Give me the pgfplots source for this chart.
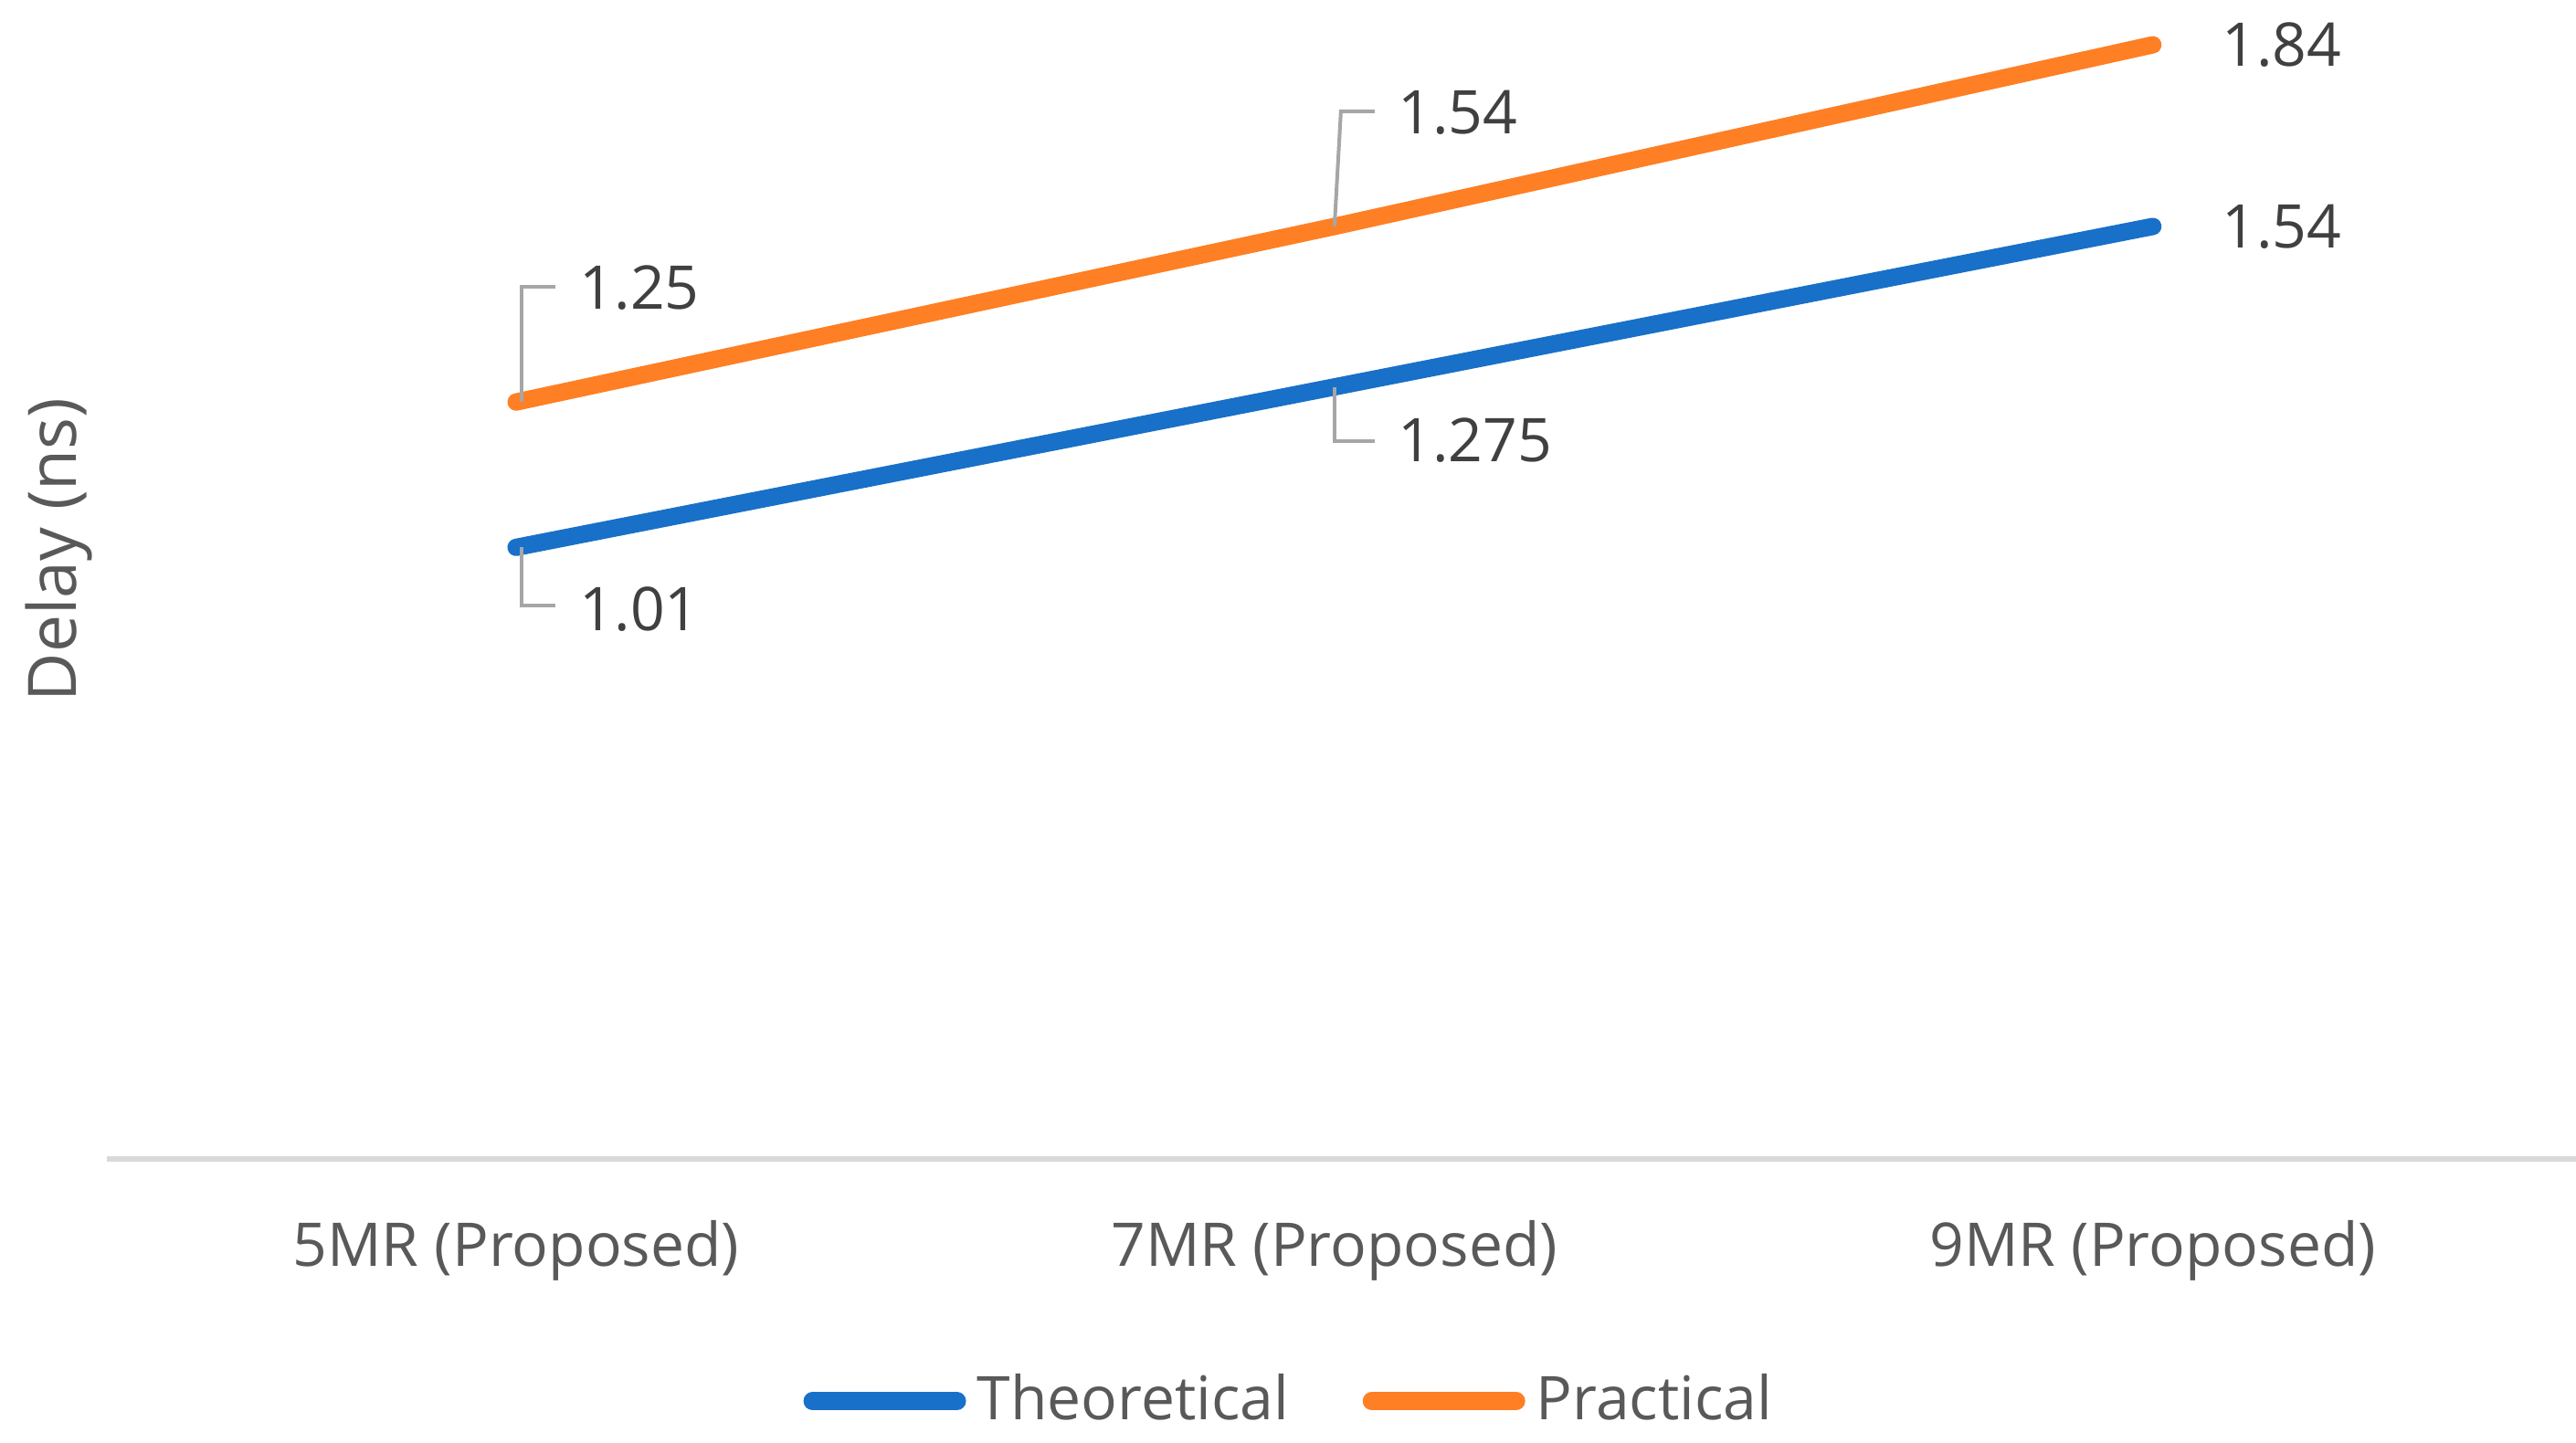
\documentclass[border=0pt]{standalone}
\usepackage{fontspec}
\setmainfont{Open Sans}
\usepackage{pgfplots}
\pgfplotsset{compat=1.18}
\definecolor{cblue}{HTML}{1870C8}
\definecolor{corange}{HTML}{FF7F24}
\definecolor{axgray}{HTML}{D9D9D9}
\definecolor{txtgray}{HTML}{595959}
\definecolor{lblgray}{HTML}{404040}
\definecolor{leadgray}{HTML}{A6A6A6}
\begin{document}
\fontsize{16.5}{20}\selectfont
\begin{tikzpicture}
\begin{axis}[
  scale only axis, width=675.75pt, height=317.25pt,
  xmin=-0.5, xmax=2.517, ymin=0, ymax=1.914,
  axis x line=bottom, axis y line=left,
  axis line style={-},
  x axis line style={draw=axgray, line width=1.5pt},
  y axis line style={draw=none},
  xtick={0,1,2},
  xticklabels={5MR (Proposed),7MR (Proposed),9MR (Proposed)},
  ytick=\empty,
  major tick length=0pt,
  xticklabel style={anchor=base, yshift=-29.5pt, inner sep=0pt, text=txtgray},
  ylabel={Delay (ns)},
  every axis y label/.style={at={(rel axis cs:-0.0193,0.5256)}, anchor=center, rotate=90, text=txtgray, font=\fontsize{18.3}{22}\selectfont},
  clip=false,
  legend columns=2,
  legend style={draw=none, fill=none, at={(0.4805,-0.209)}, anchor=center, text=txtgray,
    nodes={inner sep=3pt},
    /tikz/every even column/.append style={column sep=17.2pt}},
  legend image code/.code={\draw[#1, line width=5pt, line cap=round] (0pt,0pt) -- (39.5pt,0pt);},
]
\addplot[cblue, line width=4.75pt, line cap=round, line join=round] coordinates {(0,1.01) (1,1.275) (2,1.54)};
\addlegendentry{Theoretical}
\addplot[corange, line width=4.75pt, line cap=round, line join=round] coordinates {(0,1.25) (1,1.54) (2,1.84)};
\addlegendentry{Practical}
% leader lines and data labels
\draw[leadgray, line width=1pt] (axis cs:0,1.25) ++(1.5pt,0pt) -- ++(0pt,31.5pt) -- ++(9.25pt,0pt);
\node[anchor=west, inner sep=0pt, text=lblgray, xshift=17.25pt, yshift=31.25pt] at (axis cs:0,1.25) {1.25};
\draw[leadgray, line width=1pt] (axis cs:0,1.01) ++(1.5pt,0pt) -- ++(0pt,-16pt) -- ++(9.25pt,0pt);
\node[anchor=west, inner sep=0pt, text=lblgray, xshift=17.25pt, yshift=-17pt] at (axis cs:0,1.01) {1.01};
\draw[leadgray, line width=1pt] (axis cs:1,1.54) -- ++(1.75pt,31.5pt) -- ++(9.25pt,0pt);
\node[anchor=west, inner sep=0pt, text=lblgray, xshift=17.25pt, yshift=31.25pt] at (axis cs:1,1.54) {1.54};
\draw[leadgray, line width=1pt] (axis cs:1,1.275) -- ++(0pt,-14.75pt) -- ++(11pt,0pt);
\node[anchor=west, inner sep=0pt, text=lblgray, xshift=17.25pt, yshift=-14.5pt] at (axis cs:1,1.275) {1.275};
\node[anchor=west, inner sep=0pt, text=lblgray, xshift=18.75pt] at (axis cs:2,1.84) {1.84};
\node[anchor=west, inner sep=0pt, text=lblgray, xshift=18.75pt] at (axis cs:2,1.54) {1.54};
\end{axis}
\pgfresetboundingbox
\path[use as bounding box] ([xshift=-29.25pt, yshift=-77.75pt]current axis.south west) rectangle (current axis.north east);
\end{tikzpicture}
\end{document}
